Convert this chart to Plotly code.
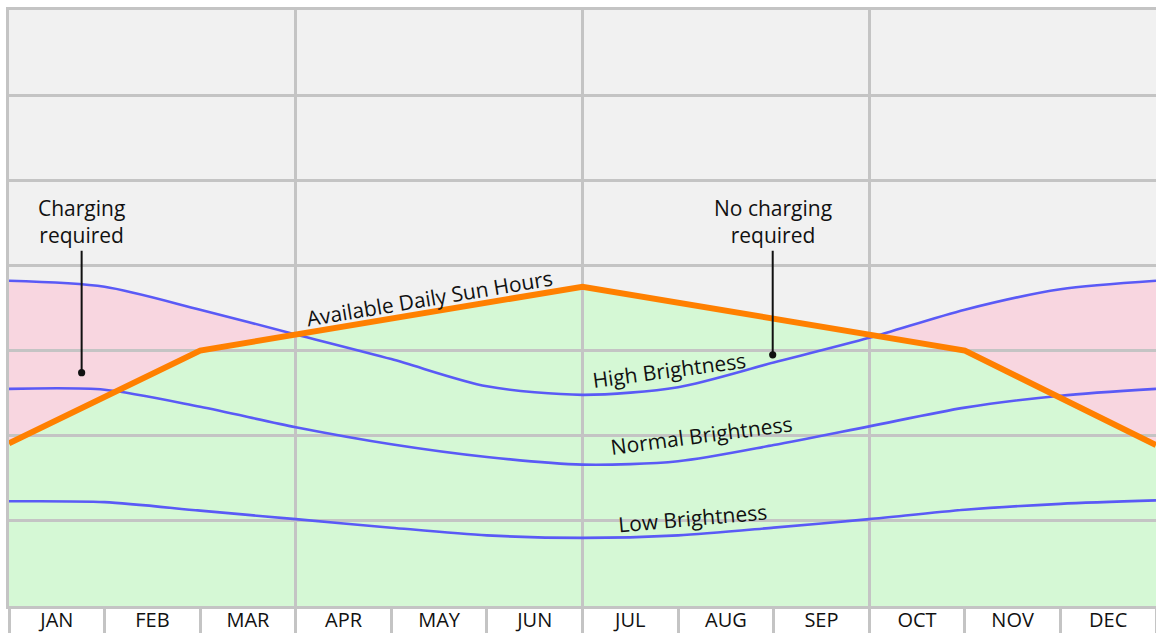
import plotly.graph_objects as go

# ---- data (months measured from Jan start = 0 to Dec end = 12) ----
month_labels = ["JAN", "FEB", "MAR", "APR", "MAY", "JUN",
                "JUL", "AUG", "SEP", "OCT", "NOV", "DEC"]
month_pos = [0, 1, 2, 3, 4, 5, 6, 7, 8, 9, 10, 11, 12]

high_brightness = [3.82, 3.75, 3.48, 3.19, 2.90, 2.58, 2.48, 2.57, 2.86, 3.15, 3.48, 3.72, 3.82]
normal_brightness = [2.55, 2.54, 2.34, 2.10, 1.90, 1.75, 1.66, 1.70, 1.89, 2.11, 2.33, 2.47, 2.55]
low_brightness = [1.23, 1.22, 1.12, 1.02, 0.92, 0.83, 0.80, 0.83, 0.92, 1.02, 1.13, 1.20, 1.24]

sun_x = [0, 2, 6, 10, 12]
sun_hours = [1.91, 3.0, 3.75, 3.0, 1.89]

# ---- styles ----
BG = "#f1f1f1"
GRID = "#c4c4c4"
GREEN = "#d5f8d5"
PINK = "#f8d6e0"
BLUE = "#5a5af6"
ORANGE = "#ff8000"
FONT = "Open Sans"

fig = go.Figure()

# subplot 1: fills only
fig.add_trace(go.Scatter(x=month_pos, y=high_brightness, mode="none", fill="tozeroy",
                         fillcolor=PINK, line=dict(shape="spline", smoothing=0.8),
                         xaxis="x", yaxis="y", hoverinfo="skip", showlegend=False))
fig.add_trace(go.Scatter(x=sun_x, y=sun_hours, mode="none", fill="tozeroy",
                         fillcolor=GREEN, xaxis="x", yaxis="y",
                         hoverinfo="skip", showlegend=False))

# subplot 2: lines (its gridlines sit above the fills of subplot 1)
for series in (high_brightness, normal_brightness, low_brightness):
    fig.add_trace(go.Scatter(x=month_pos, y=series, mode="lines",
                             line=dict(color=BLUE, width=2.6, shape="spline", smoothing=0.8),
                             xaxis="x2", yaxis="y2", hoverinfo="skip", showlegend=False))
fig.add_trace(go.Scatter(x=sun_x, y=sun_hours, mode="lines",
                         line=dict(color=ORANGE, width=6),
                         xaxis="x2", yaxis="y2", hoverinfo="skip", showlegend=False))

annotations = [
    dict(text="Available Daily Sun Hours", x=4.4, y=3.62, textangle=-9.5),
    dict(text="High Brightness", x=6.9, y=2.77, textangle=-7.5),
    dict(text="Normal Brightness", x=7.25, y=2.01, textangle=-7.5),
    dict(text="Low Brightness", x=7.15, y=1.03, textangle=-5),
]
anns = []
for a in annotations:
    anns.append(dict(xref="x2", yref="y2", showarrow=False,
                     font=dict(family=FONT, size=21, color="#111"), **a))

anns.append(dict(text="Charging<br>required", x=0.76, y=2.74, xref="x2", yref="y2",
                 showarrow=True, ax=0, ay=-151, arrowhead=6, arrowsize=0.9,
                 arrowwidth=2, arrowcolor="#111",
                 font=dict(family=FONT, size=21, color="#111")))
anns.append(dict(text="No charging<br>required", x=7.99, y=2.95, xref="x2", yref="y2",
                 showarrow=True, ax=0, ay=-133, arrowhead=6, arrowsize=0.9,
                 arrowwidth=2, arrowcolor="#111",
                 font=dict(family=FONT, size=21, color="#111")))

fig.update_layout(
    width=1156, height=633,
    margin=dict(l=9, r=0, t=10, b=27, autoexpand=False),
    paper_bgcolor="white", plot_bgcolor="rgba(0,0,0,0)",
    showlegend=False,
    annotations=anns,
    shapes=[dict(type="rect", xref="paper", yref="paper", x0=0, x1=1, y0=0, y1=1,
                 fillcolor=BG, line=dict(width=0), layer="below")],
    xaxis=dict(domain=[0, 1], range=[0, 12], showgrid=False, zeroline=False,
               automargin=False,
               tickmode="array", tickvals=[m + 0.5 for m in month_pos[:-1]],
               ticktext=month_labels, ticks="",
               tickfont=dict(family=FONT, size=20, color="#111"),
               ticklabelstandoff=-6,
               minor=dict(tickmode="array", tickvals=month_pos, ticks="outside",
                          ticklen=30, tickwidth=3, tickcolor=GRID, showgrid=False),
               showline=True, mirror=True, linecolor=GRID, linewidth=3),
    yaxis=dict(domain=[0, 1], range=[0, 7], showgrid=False, zeroline=False,
               automargin=False, showticklabels=False, ticks="",
               showline=True, mirror=False, linecolor=GRID, linewidth=3),
    xaxis2=dict(domain=[0, 1], range=[0, 12], anchor="y2", showgrid=True,
                automargin=False,
                gridcolor=GRID, gridwidth=3, tickmode="array", tickvals=[3, 6, 9],
                showticklabels=False, ticks="", zeroline=False, showline=False),
    yaxis2=dict(domain=[0, 1], range=[0, 7], anchor="x2", showgrid=True,
                automargin=False,
                gridcolor=GRID, gridwidth=3, tickmode="array", tickvals=[1, 2, 3, 4, 5, 6],
                showticklabels=False, ticks="", zeroline=False, showline=False),
)

fig.write_html("out.html", config={"displayModeBar": False},
               post_script="document.body.style.margin='0';document.body.style.overflow='hidden';")
